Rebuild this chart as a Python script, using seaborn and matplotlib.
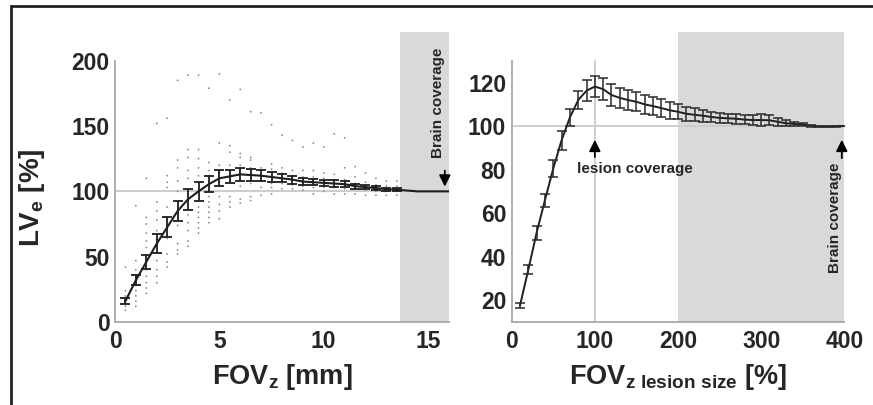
import matplotlib
matplotlib.use("Agg")
import matplotlib.pyplot as plt
import seaborn as sns
import pandas as pd
from matplotlib.lines import Line2D

sns.set_style("white")
plt.rcParams['font.family'] = ['Liberation Sans', 'DejaVu Sans']
plt.rcParams['font.weight'] = 'bold'
plt.rcParams['mathtext.fontset'] = 'custom'
plt.rcParams['mathtext.rm'] = 'Liberation Sans:bold'
plt.rcParams['mathtext.it'] = 'Liberation Sans:bold'
plt.rcParams['mathtext.bf'] = 'Liberation Sans:bold'

# ---------------- Left panel data ----------------
fov_mm = [0.5, 1, 1.5, 2, 2.5, 3, 3.5, 4, 4.5, 5, 5.5, 6, 6.5, 7, 7.5, 8, 8.5, 9,
          9.5, 10, 10.5, 11, 11.5, 12, 12.5, 13, 13.5]
lve_mean = [16, 32, 46, 60, 72.5, 85, 94, 100, 105.5, 110, 111.5, 113, 112.5, 112,
            111, 110, 109, 107.5, 107, 106.5, 106, 105.5, 104, 103.3, 102.5, 101.7, 101.3]
lve_err = [2.5, 4, 5.5, 7, 7.5, 8, 8, 7, 6, 6, 5, 5, 4.5, 4, 3.5, 3, 3, 2.5, 2.5,
           2.5, 2.5, 2.5, 2, 1.8, 1.5, 1.2, 1]
tail_mm = [13.5, 14, 14.5, 15, 15.5, 16]
tail_val = [101.3, 100.6, 100, 100, 100, 100]

dots_x = [0.5, 0.5, 0.5, 0.5, 0.5,
          1, 1, 1, 1, 1, 1, 1, 1, 1,
          1.5, 1.5, 1.5, 1.5, 1.5, 1.5, 1.5, 1.5, 1.5, 1.5, 1.5, 1.5,
          2, 2, 2, 2, 2, 2, 2, 2, 2, 2,
          2.5, 2.5, 2.5, 2.5, 2.5, 2.5, 2.5, 2.5, 2.5, 2.5,
          3, 3, 3, 3, 3, 3, 3, 3, 3, 3,
          3.5, 3.5, 3.5, 3.5, 3.5, 3.5, 3.5, 3.5, 3.5, 3.5,
          4, 4, 4, 4, 4, 4, 4, 4, 4, 4, 4,
          4.5, 4.5, 4.5, 4.5, 4.5, 4.5, 4.5, 4.5, 4.5, 4.5,
          5, 5, 5, 5, 5, 5, 5, 5, 5, 5,
          5.5, 5.5, 5.5, 5.5, 5.5, 5.5, 5.5, 5.5,
          6, 6, 6, 6, 6, 6, 6, 6,
          6.5, 6.5, 6.5, 6.5, 6.5, 6.5, 6.5,
          7, 7, 7, 7, 7, 7,
          7.5, 7.5, 7.5, 7.5, 7.5, 7.5,
          8, 8, 8, 8, 8,
          8.5, 8.5, 8.5, 8.5, 8.5,
          9, 9, 9, 9, 9,
          9.5, 9.5, 9.5, 9.5, 9.5,
          10, 10, 10, 10, 10,
          10.5, 10.5, 10.5, 10.5, 10.5,
          11, 11, 11, 11, 11,
          11.5, 11.5, 11.5, 11.5,
          12, 12, 12, 12,
          12.5, 12.5, 12.5, 12.5,
          13, 13, 13, 13,
          13.5, 13.5, 13.5, 13.5]
dots_y = [42, 24, 20, 12, 9,
          89, 47, 40, 35, 28, 24, 20, 16, 12,
          110, 80, 75, 68, 62, 57, 50, 40, 35, 30, 26, 22,
          152, 92, 85, 78, 70, 64, 47, 40, 35, 30,
          156, 112, 107, 103, 88, 80, 64, 52, 46, 42,
          185, 124, 118, 108, 100, 92, 74, 60, 55, 52,
          189, 132, 126, 116, 110, 82, 76, 70, 62, 58,
          189, 132, 125, 118, 112, 88, 84, 80, 76, 72, 68,
          179, 122, 116, 112, 96, 92, 88, 84, 80, 76,
          190, 137, 120, 115, 108, 104, 96, 90, 85, 79,
          170, 135, 130, 120, 116, 96, 92, 88,
          178, 129, 126, 120, 117, 104, 94, 91,
          161, 126, 124, 118, 106, 96, 93,
          160, 118, 116, 108, 103, 97,
          151, 121, 117, 106, 103, 98,
          143, 118, 114, 106, 102,
          139, 116, 112, 105, 102,
          134, 116, 111, 104, 101,
          137, 116, 111, 103, 98,
          134, 114, 110, 103, 100,
          144, 113, 109, 103, 98,
          141, 118, 109, 102, 98,
          119, 111, 106, 98,
          114, 107, 101, 97,
          110, 105, 100, 97,
          108, 104, 100, 97,
          108, 104, 100, 97]

# ---------------- Right panel data ----------------
fov_pct = [10, 20, 30, 40, 50, 60, 70, 80, 90, 100, 110, 120, 130, 140, 150, 160, 170,
           180, 190, 200, 210, 220, 230, 240, 250, 260, 270, 280, 290, 300, 310, 320,
           330, 340, 350, 360, 370, 380, 390, 400]
pct_mean = [17.5, 34, 51, 66, 80.5, 93.5, 104, 112, 116.3, 118.2, 117, 114.3, 113, 112,
            111.2, 110, 109.2, 108.3, 107.3, 106.6, 105.7, 105.2, 104.8, 104.2, 103.8,
            103.6, 103.4, 103, 102.8, 102.8, 102.7, 102, 101.3, 101, 100.7, 100.2,
            99.8, 99.8, 100, 100]
pct_err = [1.3, 2.2, 3.2, 3, 4, 4.4, 4, 4.3, 4.8, 5, 5, 5, 4.7, 4.6, 4.4, 4.2, 4.2, 4,
           3.8, 3.5, 3.2, 3, 2.8, 2.5, 2.3, 2.2, 2.2, 2.2, 2.4, 2.6, 2.4, 1.8, 1.3, 1,
           0.8, 0.5, 0.3, 0.2, 0.2, 0.1]

left_xticks = [0, 5, 10, 15]
left_yticks = [0, 50, 100, 150, 200]
right_xticks = [0, 100, 200, 300, 400]
right_yticks = [20, 40, 60, 80, 100, 120]

SPINE = '#a8a8a8'
SHADE = '#d9d9d9'
REF = '#cccccc'
LINE = '#1e1e1e'

fig = plt.figure(figsize=(8.73, 4.05), dpi=100)
axL = fig.add_axes([115/873, (405-322)/405, 334/873, 290/405])
axR = fig.add_axes([511.7/873, (405-322)/405, 332.6/873, 290/405])

def style(ax, xticks, yticks, ybounds):
    sns.despine(ax=ax)
    for s in ['left', 'bottom']:
        ax.spines[s].set_color(SPINE)
        ax.spines[s].set_linewidth(1.3)
    ax.spines['left'].set_bounds(*ybounds)
    ax.set_xticks(xticks)
    ax.set_yticks(yticks)
    ax.tick_params(axis='both', length=0, labelsize=16.5)
    ax.tick_params(axis='x', pad=6)
    ax.tick_params(axis='y', pad=4)
    for lab in ax.get_xticklabels() + ax.get_yticklabels():
        lab.set_fontweight('bold')
    ax.grid(False)

# ---- Left ----
axL.set_xlim(0, 16)
axL.set_ylim(0, 222)
axL.axvspan(13.65, 16, color=SHADE, lw=0, zorder=0)
axL.axhline(100, color=REF, lw=1.5, zorder=1)
sns.scatterplot(x=dots_x, y=dots_y, ax=axL, s=7, color='#8c8c8c', marker='.',
                edgecolor='none', zorder=2, legend=False)
dfL = pd.DataFrame({'x': fov_mm, 'y': lve_mean})
sns.lineplot(data=dfL, x='x', y='y', ax=axL, color=LINE, lw=1.5, zorder=4)
sns.lineplot(x=tail_mm, y=tail_val, ax=axL, color=LINE, lw=1.5, zorder=4)
axL.errorbar(fov_mm, lve_mean, yerr=lve_err, fmt='none', ecolor=LINE, elinewidth=1.3,
             capsize=3.5, capthick=1.3, zorder=5)
style(axL, left_xticks, left_yticks, (0, 200))
axL.set_xlabel(r'FOV$_{\mathrm{z}}$ [mm]', fontsize=19.5, fontweight='bold', labelpad=6)
axL.set_ylabel(r'LV$_{\mathrm{e}}$ [%]', fontsize=20, fontweight='bold')
axL.yaxis.set_label_coords(-0.205, 0.43)
axL.text(15.45, 168, 'Brain coverage', rotation=90, ha='center', va='center',
         fontsize=11, fontweight='bold')
axL.annotate('', xy=(15.8, 101.5), xytext=(15.8, 118),
             arrowprops=dict(arrowstyle='-|>', color='black', lw=1.3, mutation_scale=17))

# ---- Right ----
axR.set_xlim(0, 400)
axR.set_ylim(9.9, 143.3)
axR.axvspan(200, 400, color=SHADE, lw=0, zorder=0)
axR.axhline(100, color=REF, lw=1.3, zorder=1)
axR.axvline(100, ymax=(130-9.9)/(143.3-9.9), color=REF, lw=1.3, zorder=1)
dfR = pd.DataFrame({'x': fov_pct, 'y': pct_mean})
sns.lineplot(data=dfR, x='x', y='y', ax=axR, color=LINE, lw=1.4, zorder=4)
axR.errorbar(fov_pct, pct_mean, yerr=pct_err, fmt='none', ecolor='#2a2a2a', elinewidth=1.1,
             capsize=3.5, capthick=1.1, zorder=5)
style(axR, right_xticks, right_yticks, (9.9, 130))
axR.set_xlabel(r'FOV$_{\mathrm{z\ lesion\ size}}$ [%]', fontsize=19.5, fontweight='bold',
               labelpad=6)
axR.set_ylabel('')
axR.text(148, 80.3, 'lesion coverage', ha='center', va='center', fontsize=11,
         fontweight='bold')
axR.annotate('', xy=(100, 95), xytext=(100, 84.5),
             arrowprops=dict(arrowstyle='-|>', color='black', lw=1.3, mutation_scale=17))
axR.text(389, 58, 'Brain coverage', rotation=90, ha='center', va='center',
         fontsize=11, fontweight='bold')
axR.annotate('', xy=(397, 95), xytext=(397, 84),
             arrowprops=dict(arrowstyle='-|>', color='black', lw=1.3, mutation_scale=17))

# ---- Frame ----
fig.add_artist(Line2D([11/873, 1.0], [1 - 6/405, 1 - 6/405], color='#222222', lw=2,
                      transform=fig.transFigure))
fig.add_artist(Line2D([11/873, 11/873], [0, 1 - 6/405], color='#222222', lw=2,
                      transform=fig.transFigure))

fig.savefig('out.png', dpi=100)
